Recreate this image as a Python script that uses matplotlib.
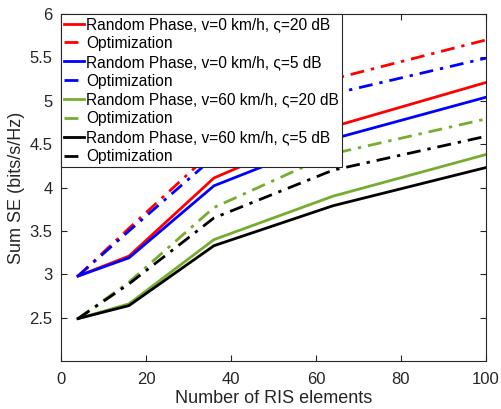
import matplotlib
matplotlib.use("Agg")
import matplotlib.pyplot as plt

plt.rcParams['font.family'] = ['Liberation Sans', 'DejaVu Sans']

# number of RIS elements
n_elements = [4, 16, 36, 64, 100]

# sum SE values (bits/s/Hz)
rp_v0_20db = [2.98, 3.21, 4.11, 4.70, 5.21]
opt_v0_20db = [2.98, 3.53, 4.43, 5.25, 5.70]
rp_v0_5db = [2.98, 3.19, 4.02, 4.56, 5.04]
opt_v0_5db = [2.98, 3.50, 4.35, 5.08, 5.49]
rp_v60_20db = [2.49, 2.66, 3.40, 3.90, 4.38]
opt_v60_20db = [2.49, 2.91, 3.77, 4.39, 4.79]
rp_v60_5db = [2.49, 2.64, 3.33, 3.79, 4.23]
opt_v60_5db = [2.49, 2.89, 3.65, 4.20, 4.59]

labels = [
    "Random Phase, v=0 km/h, \u03c2=20 dB", "Optimization",
    "Random Phase, v=0 km/h, \u03c2=5 dB", "Optimization",
    "Random Phase, v=60 km/h, \u03c2=20 dB", "Optimization",
    "Random Phase, v=60 km/h, \u03c2=5 dB", "Optimization",
]

green = (0.466, 0.674, 0.188)
series = [
    (rp_v0_20db, "red", "-"), (opt_v0_20db, "red", "-."),
    (rp_v0_5db, "blue", "-"), (opt_v0_5db, "blue", "-."),
    (rp_v60_20db, green, "-"), (opt_v60_20db, green, "-."),
    (rp_v60_5db, "black", "-"), (opt_v60_5db, "black", "-."),
]

fig = plt.figure(figsize=(5.02, 4.09), dpi=100)
ax = fig.add_axes([0.1215, 0.117, 0.8465, 0.849])

dashdot = (0, (5, 2.5, 1.2, 2.5))
for (vals, col, ls), lab in zip(series, labels):
    ax.plot(n_elements, vals, color=col, linewidth=2,
            linestyle=dashdot if ls == "-." else "-", label=lab)

ax.set_xlim(0, 100)
ax.set_ylim(2, 6)
ax.set_xticks([0, 20, 40, 60, 80, 100])
ax.set_yticks([2.5, 3, 3.5, 4, 4.5, 5, 5.5, 6])
ax.set_yticklabels(["2.5", "3", "3.5", "4", "4.5", "5", "5.5", "6"])
ax.tick_params(direction="in", top=True, right=True, labelsize=12,
               colors="#262626", length=4)
ax.tick_params(axis="x", pad=8)
ax.tick_params(axis="y", pad=6)
for sp in ax.spines.values():
    sp.set_color("#262626")
    sp.set_linewidth(0.8)

ax.set_xlabel("Number of RIS elements", fontsize=13, color="#262626", labelpad=2)
ax.set_ylabel("Sum SE (bits/s/Hz)", fontsize=13, color="#262626", labelpad=3)

leg = ax.legend(loc="upper left", fontsize=11.2, frameon=True, fancybox=False,
                borderaxespad=0, handlelength=1.25, handletextpad=0.15,
                labelspacing=0.25, borderpad=0.2, framealpha=1)
leg.get_frame().set_edgecolor("#262626")
leg.get_frame().set_linewidth(0.8)

fig.savefig("out.png", dpi=100)
